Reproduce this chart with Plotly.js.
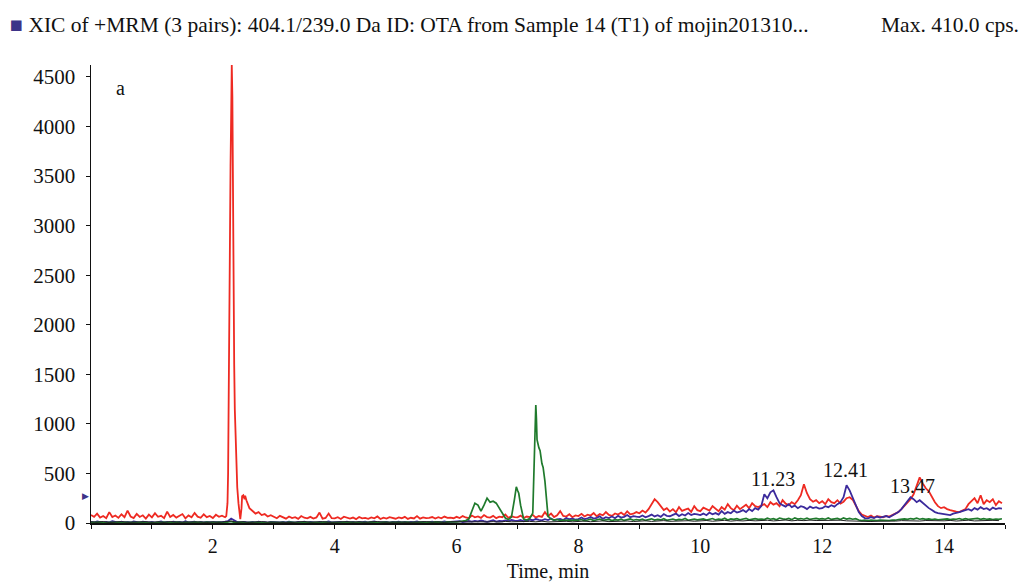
<!DOCTYPE html>
<html><head><meta charset="utf-8">
<script src="https://cdn.plot.ly/plotly-3.0.1.min.js"></script>
<style>html,body{margin:0;padding:0;background:#fff}#chart{width:1020px;height:583px}</style>
</head><body><div id="chart"></div>
<script>
// Sampling step of the read grids (min)
const gridStep = 0.05;
const blackStep = 0.1;

// Red trace, one value per 0.05 min from 0.00 to 14.95
const redGrid = [
80,62,95,55,70,48,110,60,75,52,88,58,125,66,50,92,61,78,45,84,
57,98,63,72,49,115,60,81,54,69,90,47,76,58,102,64,53,87,59,71,
50,83,62,74,58,500,4100,1600,360,40,280,230,150,120,95,110,80,90,65,78,
60,48,72,55,44,66,50,58,42,70,53,47,62,45,56,105,43,51,95,49,
46,58,41,63,50,44,55,39,61,47,52,43,57,48,66,40,54,45,59,50,
43,56,48,62,41,53,46,70,44,57,49,52,60,45,58,47,65,51,55,48,
62,50,70,56,48,75,58,66,52,80,60,55,72,49,64,58,85,53,68,60,
57,74,50,65,59,82,54,70,62,110,68,95,60,78,120,72,65,88,58,76,
70,92,66,84,75,100,68,90,78,110,82,72,96,85,105,80,118,88,94,110,
98,125,105,140,190,240,210,170,130,150,115,140,108,160,122,135,145,112,170,130,
120,155,138,125,170,142,118,160,135,190,150,128,175,140,165,185,150,200,170,160,
175,190,160,210,185,200,170,230,195,180,210,190,230,280,390,300,240,215,230,200,
220,190,240,210,200,230,195,215,250,260,235,180,120,85,70,60,75,55,68,62,
58,72,65,80,95,110,140,175,210,240,290,380,460,400,350,320,260,210,170,150,
160,140,130,120,115,110,125,140,190,220,250,200,280,190,230,210,240,180,220,200];
// Extra red points resolving the 2.3 min peak
const redPeakT = [2.22,2.24,2.26,2.27,2.28,2.29,2.31,2.32,2.33,2.34,2.36,2.37,2.38,2.42,2.44,2.47,2.48,2.52,2.53];
const redPeakV = [70,200,1500,2500,3200,3600,4620,4300,3000,2200,1150,900,700,200,60,150,270,240,275];

// Purple trace
const purpleGrid = [
10,5,15,8,3,12,6,18,9,4,14,7,11,5,16,8,3,13,9,6,
12,4,9,15,6,10,3,14,8,11,5,17,7,9,13,4,10,6,12,8,
7,11,5,9,13,20,45,25,10,6,12,8,5,10,7,14,6,9,4,11,
8,12,5,10,6,14,9,4,11,7,13,5,10,8,3,12,6,9,15,7,
9,5,12,7,14,6,10,4,11,8,13,5,9,15,6,10,7,12,4,11,
8,13,6,10,5,12,9,15,7,11,4,10,14,6,12,8,16,9,11,14,
12,18,10,15,20,14,22,16,25,18,12,20,28,15,22,18,26,20,30,24,
22,30,18,25,35,28,40,32,26,38,30,45,28,36,42,30,50,38,44,35,
40,55,38,48,60,45,52,68,42,58,50,65,48,72,55,62,80,58,70,64,
60,75,58,70,85,66,78,62,90,72,68,82,95,70,88,76,100,80,92,86,
80,95,78,105,88,100,85,120,92,110,98,125,105,115,130,110,140,120,150,135,
170,290,250,310,330,260,200,180,165,190,160,175,150,170,160,140,165,150,160,145,
150,170,160,180,165,190,210,260,380,330,260,180,110,70,50,45,60,50,65,55,
60,70,58,75,90,110,140,180,220,260,240,210,230,200,170,150,130,110,100,95,
90,85,80,95,100,110,120,130,140,125,150,135,160,140,150,130,155,140,150,145];

// Green trace
const greenGrid = [
3,6,2,8,4,1,7,5,3,9,2,6,4,8,1,5,7,3,6,2,
5,2,7,4,9,3,6,1,8,4,2,7,5,3,9,6,2,4,8,3,
6,3,8,2,5,7,15,6,3,9,4,2,7,5,8,3,6,4,2,7,
4,8,3,6,2,9,5,7,1,6,4,8,3,5,7,2,6,9,4,3,
7,2,5,9,3,6,4,8,2,5,7,3,9,4,6,1,8,5,3,7,
5,9,3,6,8,2,7,4,10,6,3,8,5,12,7,9,4,11,8,10,
10,15,18,25,40,120,200,180,120,180,250,210,220,200,150,90,50,35,60,240,
330,180,40,30,45,100,1190,760,600,420,70,40,30,35,25,30,28,32,26,30,
28,35,22,30,38,25,33,40,27,31,36,24,34,29,38,26,32,41,28,35,
30,38,26,34,42,29,36,31,44,27,35,40,30,37,33,45,28,36,39,32,
34,41,29,37,45,31,39,35,48,30,42,36,44,33,40,47,32,38,43,36,
40,35,48,38,44,32,50,42,37,46,34,52,40,45,38,49,36,43,47,39,
44,38,50,36,42,47,35,52,40,46,38,43,30,25,28,22,30,26,24,29,
27,32,25,30,28,35,38,42,36,45,40,48,38,44,36,42,35,40,33,38,
36,42,34,40,38,45,35,43,37,41,39,46,36,44,38,42,35,40,37,43];
const greenPeakT = [6.98,7.02,7.27,7.29,7.31,7.32,7.37,7.42,7.48];
const greenPeakV = [365,300,600,1100,1050,840,730,560,230];

// Black trace, one value per 0.1 min
const blackGrid = [
12,8,15,6,10,14,7,11,9,13, 8,12,6,14,9,11,7,13,10,6,
11,7,13,20,8,12,6,10,14,9, 7,12,9,6,11,14,8,10,13,7,
10,6,13,9,12,7,11,15,8,10, 13,9,7,12,10,14,8,11,6,12,
9,13,11,15,12,10,14,9,16,12, 14,10,16,12,18,11,15,13,17,12,
15,19,13,17,21,14,18,16,20,15, 18,22,16,20,24,17,21,19,23,18,
20,25,18,23,27,19,24,21,26,22, 23,28,21,26,30,22,27,24,29,25,
26,30,24,28,22,19,16,20,15,18, 17,21,19,24,22,26,20,25,23,21,
22,26,20,24,28,21,25,23,27,24];

const xTicks = [2,4,6,8,10,12,14];
const yTicks = [0,500,1000,1500,2000,2500,3000,3500,4000,4500];
const peakLabels = ['11.23','12.41','13.47'];
const peakLabelX = [11.20,12.38,13.48];
const peakLabelY = [443,534,373];

function series(grid, step, extraT, extraV){
  const pts = grid.map((v,i)=>[+(i*step).toFixed(3), v]);
  (extraT||[]).forEach((t,i)=>pts.push([t, extraV[i]]));
  pts.sort((a,b)=>a[0]-b[0]);
  return {x: pts.map(p=>p[0]), y: pts.map(p=>p[1])};
}
const red = series(redGrid, gridStep, redPeakT, redPeakV);
const purple = series(purpleGrid, gridStep);
const green = series(greenGrid, gridStep, greenPeakT, greenPeakV);
const black = series(blackGrid, blackStep);

const font = 'Liberation Serif, Times New Roman, serif';
const mk = (s,c,w)=>({type:'scatter',mode:'lines',x:s.x,y:s.y,line:{color:c,width:w},hoverinfo:'skip'});
const traces = [
  mk(red,'#ee2a22',1.8),
  mk(purple,'#3b2a9c',1.8),
  mk(green,'#1f7a2c',1.7),
  mk(black,'#222222',1)
];

const plotH = 583-65-60;
const titleY = (523-25)/plotH;
const annotations = peakLabels.map((t,i)=>({x:peakLabelX[i],y:peakLabelY[i],xref:'x',yref:'y',text:t,showarrow:false,font:{family:font,size:20,color:'#111'}}));
annotations.push({x:0.48,y:4385,xref:'x',yref:'y',text:'a',showarrow:false,font:{family:font,size:20,color:'#111'}});
annotations.push({x:-83/914,y:titleY,xref:'paper',yref:'paper',xanchor:'left',yanchor:'middle',showarrow:false,
  text:'<span style="color:#3d3388">■</span> XIC of +MRM (3 pairs): 404.1/239.0 Da ID: OTA from Sample 14 (T1) of mojin201310...',
  font:{family:font,size:21.5,color:'#111'}});
annotations.push({x:(1021-91)/914,y:titleY,xref:'paper',yref:'paper',xanchor:'right',yanchor:'middle',showarrow:false,
  text:'Max. 410.0 cps.',font:{family:font,size:21.5,color:'#111'}});
annotations.push({x:0,y:272,xref:'paper',yref:'y',xanchor:'right',yanchor:'middle',showarrow:false,text:'▶',
  font:{family:'DejaVu Sans',size:9,color:'#3d3388'}});

const layout = {
  width:1020,height:583,
  margin:{l:91,r:15,t:65,b:60},
  paper_bgcolor:'#fff',plot_bgcolor:'#fff',
  showlegend:false,
  font:{family:font,size:20,color:'#111'},
  xaxis:{range:[0,15],tickmode:'array',tickvals:xTicks,ticks:'outside',ticklen:4,tickcolor:'#111',
    showline:true,linecolor:'#111',linewidth:1.5,showgrid:false,zeroline:false,
    tickfont:{family:font,size:20,color:'#111'},
    minor:{dtick:1,tick0:0,ticks:'outside',ticklen:4,tickcolor:'#111',showgrid:false},
    title:{text:'Time, min',font:{family:font,size:20,color:'#111'},standoff:8}},
  yaxis:{range:[0,4620],tickmode:'array',tickvals:yTicks,ticks:'outside',ticklen:4,tickcolor:'#111',
    showline:true,linecolor:'#111',linewidth:1.5,showgrid:false,zeroline:false,
    ticklabelstandoff:6,tickfont:{family:font,size:21,color:'#111'}},
  annotations:annotations
};
Plotly.newPlot('chart',traces,layout,{displayModeBar:false,staticPlot:true});
</script></body></html>
